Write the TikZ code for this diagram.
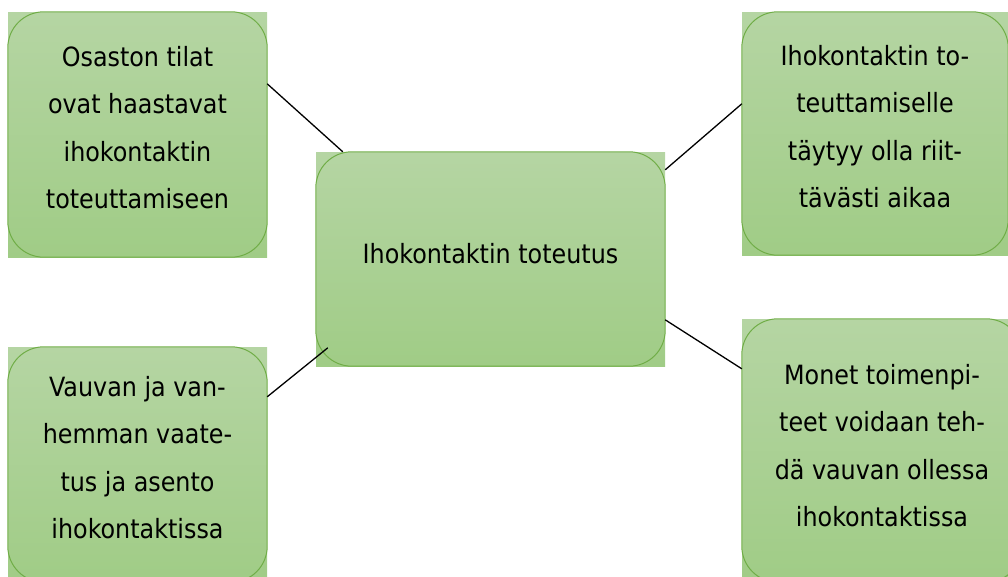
\documentclass[tikz,border=0pt]{standalone}
\usepackage{fontspec}
\IfFontExistsTF{DejaVu Sans Condensed}{\setmainfont{DejaVu Sans Condensed}}{\setmainfont{DejaVu Sans}}
\definecolor{gtop}{RGB}{181,213,163}
\definecolor{gbot}{RGB}{160,204,134}
\definecolor{gline}{RGB}{112,173,71}
\tikzset{
  box/.style={rectangle, inner sep=0pt, top color=gtop, bottom color=gbot, draw=none},
  boxtext/.style={align=center, text=black, inner sep=0pt, font=\fontsize{26.5}{47.5}\selectfont},
  outline/.style={draw=gline, line width=1pt, rounded corners=36pt},
  conn/.style={draw=black, line width=1.3pt}
}
\begin{document}
\begin{tikzpicture}[x=1pt,y=-1pt]
\useasboundingbox (0,0) rectangle (1008,576);
\clip (0,0) rectangle (1008,576);
\node[box, minimum width=259pt, minimum height=245pt] (tl) at (137.5,134.5) {};
\node[box, minimum width=266pt, minimum height=243pt] (tr) at (875,133.5) {};
\node[box, minimum width=349pt, minimum height=214pt] (c) at (490.5,259) {};
\node[box, minimum width=259pt, minimum height=235pt] (bl) at (137.5,464.5) {};
\node[box, minimum width=280pt, minimum height=263pt] (br) at (882,450.5) {};
\foreach \n in {tl,tr,c,bl,br}
  \draw[outline] (\n.south west) rectangle (\n.north east);
\node[boxtext] (tlt) at ([yshift=7pt]tl.center)
  {Osaston tilat\\ovat haastavat\\ihokontaktin\\toteuttamiseen};
\node[boxtext] (trt) at ([yshift=7pt]tr.center)
  {Ihokontaktin to-\\teuttamiselle\\täytyy olla riit-\\tävästi aikaa};
\node[boxtext] (ct) at ([yshift=5pt]c.center) {Ihokontaktin toteutus};
\node[boxtext] (blt) at ([yshift=7pt]bl.center)
  {Vauvan ja van-\\hemman vaate-\\tus ja asento\\ihokontaktissa};
\node[boxtext] (brt) at ([yshift=5pt]br.center)
  {Monet toimenpi-\\teet voidaan teh-\\dä vauvan ollessa\\ihokontaktissa};
\draw[conn] ([yshift=-72pt]tl.north east) -- ([xshift=27pt]c.north west);
\draw[conn] ([yshift=-18pt]c.north east) -- ([yshift=-92pt]tr.north west);
\draw[conn] ([yshift=-50pt]bl.north west -| bl.east) -- ([xshift=12pt,yshift=-196pt]c.north west);
\draw[conn] ([yshift=-168pt]c.north east) -- ([yshift=-50pt]br.north west);
\end{tikzpicture}
\end{document}
